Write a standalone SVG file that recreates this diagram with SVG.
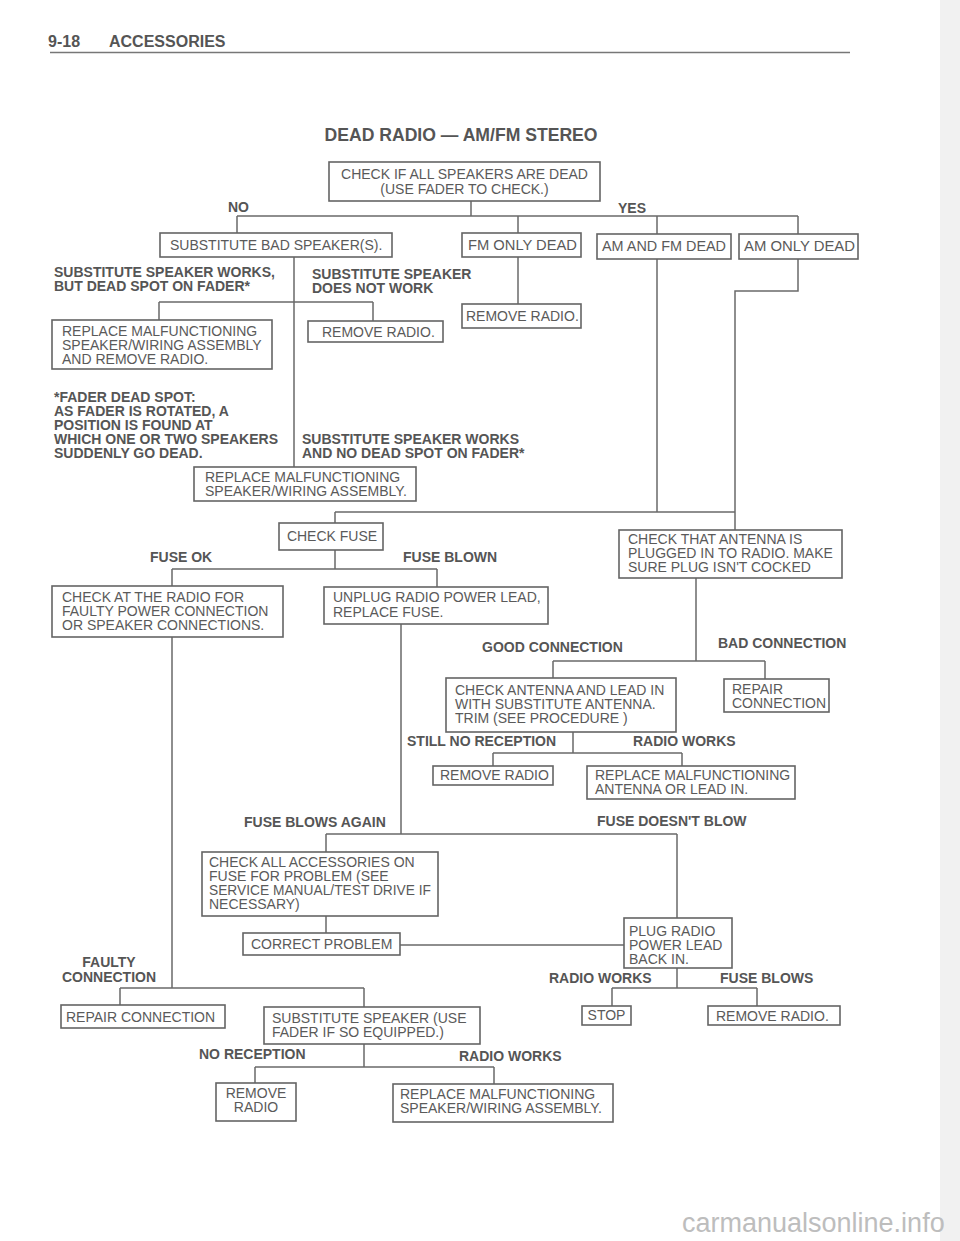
<svg xmlns="http://www.w3.org/2000/svg" width="960" height="1241" viewBox="0 0 960 1241">
<style>
.box{fill:#fff;stroke:#646464;stroke-width:1.6}
.t{font-family:"Liberation Sans",Arial,sans-serif;font-size:14px;fill:#5a5a5a}
.c{text-anchor:middle}
.b{font-family:"Liberation Sans",Arial,sans-serif;font-size:14px;font-weight:bold;fill:#555}
.conn{stroke:#6a6a6a;stroke-width:1.5;fill:none}
.hdr{font-family:"Liberation Sans",Arial,sans-serif;font-size:16px;font-weight:bold;fill:#555}
</style>
<rect x="0" y="0" width="960" height="1241" fill="#fff"/>
<rect x="940" y="0" width="20" height="1241" fill="#f1f1f1"/>
<g id="header">
<text class="hdr" x="48" y="47">9-18</text>
<text class="hdr" x="109" y="47">ACCESSORIES</text>
<line x1="50" y1="52.5" x2="850" y2="52.5" stroke="#777" stroke-width="1.5"/>
<text x="461" y="141" class="c" font-family="Liberation Sans,Arial,sans-serif" font-size="17.6" font-weight="bold" fill="#555">DEAD RADIO — AM/FM STEREO</text>
</g>

<g id="connectors" class="conn">
<path d="M471 201V216M237 216H798M237 216V233M518 216V233M657 216V234M798 216V234"/>
<path d="M294 257V468M159 302H373M159 302V320M373 302V321"/>
<path d="M518 257V304"/>
<path d="M657 259V512M798 259V291H735V530M335 512H735M335 512V523"/>
<path d="M335 550V569M172 569H437M172 569V586M437 569V587"/>
<path d="M696 578V661M553 661H765M553 661V678M765 661V679"/>
<path d="M573 732V753M493 753H682M493 753V766M682 753V766"/>
<path d="M401 624V834M326 834H677M326 834V852M677 834V918"/>
<path d="M326 916V933M400 945H624"/>
<path d="M172 637V988M120 988H364M120 988V1005M364 988V1007"/>
<path d="M364 1044V1067M255 1067H494M255 1067V1083M494 1067V1084"/>
<path d="M677 968V988M612 988H757M612 988V1006M757 988V1006"/>
</g>

<g id="n-check-speakers"><rect class="box" x="329" y="162" width="271" height="39"/>
<text class="t c" x="464.5" y="179">CHECK IF ALL SPEAKERS ARE DEAD</text>
<text class="t c" x="464.5" y="194">(USE FADER TO CHECK.)</text></g>

<g id="n-subst-bad"><rect class="box" x="160" y="233" width="232" height="24"/>
<text class="t" x="170" y="250">SUBSTITUTE BAD SPEAKER(S).</text></g>
<g id="n-fm-only"><rect class="box" x="462" y="233" width="119" height="24"/>
<text class="t" x="468" y="250" textLength="109" lengthAdjust="spacingAndGlyphs">FM ONLY DEAD</text></g>
<g id="n-am-fm"><rect class="box" x="597" y="234" width="134" height="25"/>
<text class="t" x="602" y="251" textLength="124" lengthAdjust="spacingAndGlyphs">AM AND FM DEAD</text></g>
<g id="n-am-only"><rect class="box" x="739" y="234" width="119" height="25"/>
<text class="t" x="744" y="251" textLength="111" lengthAdjust="spacingAndGlyphs">AM ONLY DEAD</text></g>

<g id="n-remove-radio-fm"><rect class="box" x="462" y="304" width="119" height="24"/>
<text class="t" x="466" y="321">REMOVE RADIO.</text></g>

<g id="n-replace-remove"><rect class="box" x="52" y="320" width="220" height="49"/>
<text class="t" x="62" y="336">REPLACE MALFUNCTIONING</text>
<text class="t" x="62" y="350">SPEAKER/WIRING ASSEMBLY</text>
<text class="t" x="62" y="364">AND REMOVE RADIO.</text></g>

<g id="n-remove-radio-1"><rect class="box" x="308" y="321" width="135" height="21"/>
<text class="t" x="322" y="337">REMOVE RADIO.</text></g>

<g id="n-replace-speaker"><rect class="box" x="194" y="467" width="222" height="34"/>
<text class="t" x="205" y="482">REPLACE MALFUNCTIONING</text>
<text class="t" x="205" y="496">SPEAKER/WIRING ASSEMBLY.</text></g>

<g id="n-check-fuse"><rect class="box" x="279" y="523" width="104" height="27"/>
<text class="t c" x="332" y="541">CHECK FUSE</text></g>

<g id="n-check-antenna-plug"><rect class="box" x="619" y="530" width="223" height="48"/>
<text class="t" x="628" y="544">CHECK THAT ANTENNA IS</text>
<text class="t" x="628" y="558">PLUGGED IN TO RADIO. MAKE</text>
<text class="t" x="628" y="572">SURE PLUG ISN'T COCKED</text></g>

<g id="n-check-at-radio"><rect class="box" x="52" y="586" width="231" height="51"/>
<text class="t" x="62" y="602">CHECK AT THE RADIO FOR</text>
<text class="t" x="62" y="616">FAULTY POWER CONNECTION</text>
<text class="t" x="62" y="630">OR SPEAKER CONNECTIONS.</text></g>

<g id="n-unplug"><rect class="box" x="324" y="587" width="224" height="37"/>
<text class="t" x="333" y="602">UNPLUG RADIO POWER LEAD,</text>
<text class="t" x="333" y="617">REPLACE FUSE.</text></g>

<g id="n-check-antenna-lead"><rect class="box" x="446" y="678" width="230" height="54"/>
<text class="t" x="455" y="695">CHECK ANTENNA AND LEAD IN</text>
<text class="t" x="455" y="709">WITH SUBSTITUTE ANTENNA.</text>
<text class="t" x="455" y="723">TRIM (SEE PROCEDURE )</text></g>

<g id="n-repair-conn-1"><rect class="box" x="724" y="679" width="105" height="33"/>
<text class="t" x="732" y="694">REPAIR</text>
<text class="t" x="732" y="708">CONNECTION</text></g>

<g id="n-remove-radio-2"><rect class="box" x="433" y="766" width="120" height="19"/>
<text class="t" x="440" y="780">REMOVE RADIO</text></g>

<g id="n-replace-antenna"><rect class="box" x="587" y="766" width="208" height="33"/>
<text class="t" x="595" y="780">REPLACE MALFUNCTIONING</text>
<text class="t" x="595" y="794">ANTENNA OR LEAD IN.</text></g>

<g id="n-check-accessories"><rect class="box" x="202" y="852" width="236" height="64"/>
<text class="t" x="209" y="867">CHECK ALL ACCESSORIES ON</text>
<text class="t" x="209" y="881">FUSE FOR PROBLEM (SEE</text>
<text class="t" x="209" y="895" textLength="222" lengthAdjust="spacingAndGlyphs">SERVICE MANUAL/TEST DRIVE IF</text>
<text class="t" x="209" y="909">NECESSARY)</text></g>

<g id="n-correct-problem"><rect class="box" x="243" y="933" width="157" height="22"/>
<text class="t" x="251" y="949">CORRECT PROBLEM</text></g>

<g id="n-plug-radio"><rect class="box" x="624" y="918" width="108" height="50"/>
<text class="t" x="629" y="936">PLUG RADIO</text>
<text class="t" x="629" y="950">POWER LEAD</text>
<text class="t" x="629" y="964">BACK IN.</text></g>

<g id="n-repair-conn-2"><rect class="box" x="61" y="1005" width="164" height="23"/>
<text class="t" x="66" y="1022">REPAIR CONNECTION</text></g>

<g id="n-subst-speaker"><rect class="box" x="264" y="1007" width="216" height="37"/>
<text class="t" x="272" y="1023">SUBSTITUTE SPEAKER (USE</text>
<text class="t" x="272" y="1037">FADER IF SO EQUIPPED.)</text></g>

<g id="n-stop"><rect class="box" x="582" y="1006" width="49" height="19"/>
<text class="t c" x="606.5" y="1020">STOP</text></g>

<g id="n-remove-radio-3"><rect class="box" x="708" y="1006" width="132" height="19"/>
<text class="t" x="716" y="1021">REMOVE RADIO.</text></g>

<g id="n-remove-radio-4"><rect class="box" x="216" y="1083" width="80" height="38"/>
<text class="t c" x="256" y="1098">REMOVE</text>
<text class="t c" x="256" y="1112">RADIO</text></g>

<g id="n-replace-speaker-2"><rect class="box" x="393" y="1084" width="220" height="38"/>
<text class="t" x="400" y="1099">REPLACE MALFUNCTIONING</text>
<text class="t" x="400" y="1113">SPEAKER/WIRING ASSEMBLY.</text></g>

<g id="labels">
<text class="b" x="228" y="212">NO</text>
<text class="b" x="618" y="213">YES</text>
<text class="b" x="54" y="277">SUBSTITUTE SPEAKER WORKS,</text>
<text class="b" x="54" y="291">BUT DEAD SPOT ON FADER*</text>
<text class="b" x="312" y="279">SUBSTITUTE SPEAKER</text>
<text class="b" x="312" y="293">DOES NOT WORK</text>
<text class="b" x="54" y="402">*FADER DEAD SPOT:</text>
<text class="b" x="54" y="416">AS FADER IS ROTATED, A</text>
<text class="b" x="54" y="430">POSITION IS FOUND AT</text>
<text class="b" x="54" y="444">WHICH ONE OR TWO SPEAKERS</text>
<text class="b" x="54" y="458">SUDDENLY GO DEAD.</text>
<text class="b" x="302" y="444">SUBSTITUTE SPEAKER WORKS</text>
<text class="b" x="302" y="458">AND NO DEAD SPOT ON FADER*</text>
<text class="b" x="150" y="562">FUSE OK</text>
<text class="b" x="403" y="562">FUSE BLOWN</text>
<text class="b" x="482" y="652">GOOD CONNECTION</text>
<text class="b" x="718" y="648">BAD CONNECTION</text>
<text class="b" x="407" y="746">STILL NO RECEPTION</text>
<text class="b" x="633" y="746">RADIO WORKS</text>
<text class="b" x="244" y="827">FUSE BLOWS AGAIN</text>
<text class="b" x="597" y="826">FUSE DOESN'T BLOW</text>
<text class="b c" x="109" y="967">FAULTY</text>
<text class="b c" x="109" y="982">CONNECTION</text>
<text class="b" x="549" y="983">RADIO WORKS</text>
<text class="b" x="720" y="983">FUSE BLOWS</text>
<text class="b" x="199" y="1059">NO RECEPTION</text>
<text class="b" x="459" y="1061">RADIO WORKS</text>
</g>
<text x="682" y="1232" font-family="Liberation Sans,Arial,sans-serif" font-size="27" fill="#bdbdbd">carmanualsonline.info</text>
</svg>
